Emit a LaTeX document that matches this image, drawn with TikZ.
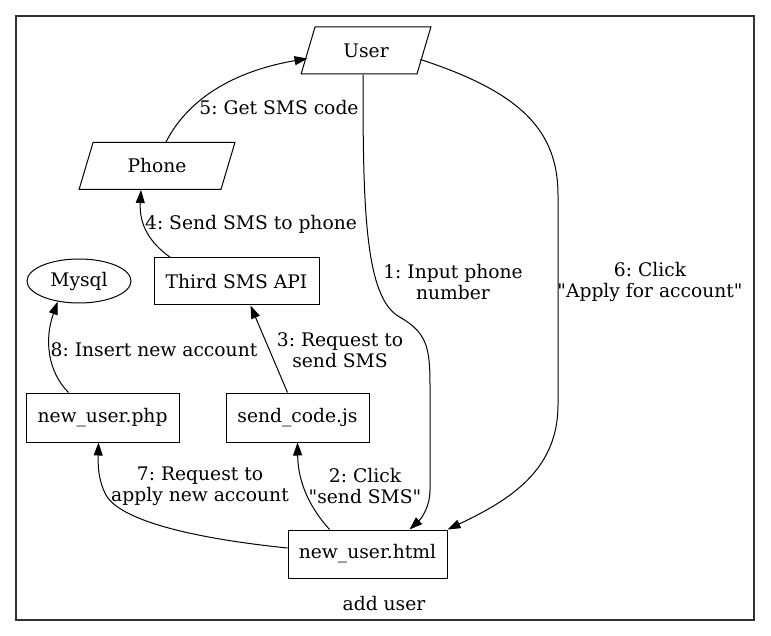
\documentclass[tikz,border=0pt]{standalone}
\usepackage{fontspec}
\setmainfont{DejaVu Serif}[Ligatures=TeXOff]
\usetikzlibrary{arrows.meta,shapes.geometric}
\frenchspacing

\begin{document}
\begin{tikzpicture}[x=1pt,y=-1pt,
        font=\fontsize{18.7}{21}\selectfont,
        every node/.style={line width=1pt},
        box/.style={draw,rectangle,minimum height=48pt,inner sep=0pt},
        para/.style={draw,trapezium,trapezium left angle=66,trapezium right angle=114,trapezium stretches=true,minimum height=47pt,inner sep=0pt},
        lbl/.style={align=center,inner sep=0pt},
        edge/.style={-{Triangle[length=13pt,width=9pt]},line width=1pt}]
        \useasboundingbox (0,0) rectangle (771,636);
        \draw[line width=1.2pt,black!80] (16,16) rectangle (754,620);
        \node[lbl] (title) at (384,604) {add user};

        \node[para,minimum width=130pt] (user) at (366,50.5) {User};
        \node[para,minimum width=156pt] (phone) at (157,166) {Phone};
        \node[draw,ellipse,minimum width=104pt,minimum height=44pt,inner sep=0pt] (mysql) at (79,281) {Mysql};
        \node[box,minimum width=165pt,minimum height=47pt] (third) at (236.5,281.5) {Third SMS API};
        \node[box,minimum width=153pt,minimum height=49pt] (php) at (102.5,417.5) {new\_user.php};
        \node[box,minimum width=143pt,minimum height=49pt] (send) at (297.5,417.5) {send\_code.js};
        \node[box,minimum width=159pt] (html) at (367.5,554) {new\_user.html};

        \draw[edge] ([xshift=-3pt]user.south) .. controls (363,200) and (364,295) .. (398,316)
            .. controls (426,332) and (430,345) .. (430,385) -- (430,490)
            .. controls (430,506) and (422,518) .. ([xshift=42pt]html.north);
        \draw[edge] ([xshift=-38pt]html.north) .. controls (312,510) and (298,485) .. (send.south);
        \draw[edge] ([xshift=-10pt]send.north) -- ([xshift=14pt]third.south);
        \draw[edge] ([xshift=-66pt]third.north) .. controls (150,243) and (139,225) .. ([xshift=-16pt]phone.south);
        \draw[edge] ([xshift=9pt]phone.north) .. controls (190,95) and (240,70) .. ([yshift=-8pt]user.west);
        \draw[edge] ([shift={(-4pt,-9pt)}]user.east) .. controls (520,92) and (558,130) .. (558,195) -- (558,405)
            .. controls (558,470) and (510,500) .. (html.north east);
        \draw[edge] ([yshift=6pt]html.west) .. controls (190,538) and (120,520) .. (106,495)
            .. controls (98,480) and (98,465) .. ([xshift=-4pt]php.south);
        \draw[edge] ([xshift=-34pt]php.north) .. controls (48,372) and (44,340) .. (mysql.-136);

        \node[lbl] (l1) at (453,282) {1: Input phone\\number};
        \node[lbl] (l2) at (365,486) {2: Click\\"send SMS"};
        \node[lbl] (l3) at (340,350) {3: Request to\\send SMS};
        \node[lbl] (l4) at (251,224) {4: Send SMS to phone};
        \node[lbl] (l5) at (279,108) {5: Get SMS code};
        \node[lbl] (l6) at (650,282) {6: Click\\"Apply for account"};
        \node[lbl] (l7) at (200,486) {7: Request to\\apply new account};
        \node[lbl] (l8) at (154,350) {8: Insert new account};
\end{tikzpicture}
\end{document}
